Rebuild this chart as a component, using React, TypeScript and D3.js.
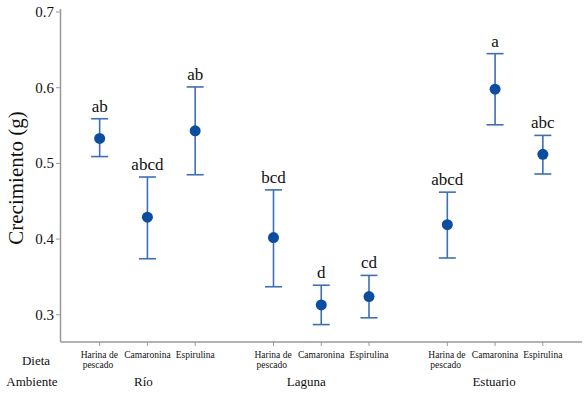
import React, { useRef, useEffect } from 'react';
import * as d3 from 'd3';

const ambientes = ['Río', 'Laguna', 'Estuario'];
const dietas = ['Harina de pescado', 'Camaronina', 'Espirulina'];
// one row per ambiente, columns follow dietas
const medias = [
  [0.533, 0.429, 0.543],
  [0.402, 0.313, 0.324],
  [0.419, 0.598, 0.512],
];
const superiores = [
  [0.559, 0.482, 0.601],
  [0.465, 0.339, 0.352],
  [0.462, 0.645, 0.537],
];
const inferiores = [
  [0.509, 0.374, 0.485],
  [0.337, 0.287, 0.296],
  [0.375, 0.551, 0.486],
];
const letras = [
  ['ab', 'abcd', 'ab'],
  ['bcd', 'd', 'cd'],
  ['abcd', 'a', 'abc'],
];
const yTicks = [0.3, 0.4, 0.5, 0.6, 0.7];

const App = () => {
  const ref = useRef<SVGSVGElement>(null);

  useEffect(() => {
    const width = 585;
    const height = 393;
    const svg = d3.select(ref.current);
    svg.selectAll('*').remove();
    svg.attr('width', width).attr('height', height);

    const font = "'Liberation Serif', 'DejaVu Serif', serif";
    const lineCol = '#3d6fb4';
    const dotCol = '#0c4da0';
    const axisCol = '#9a9a9a';

    const x0 = d3.scaleBand().domain(ambientes).range([60.5, 582]).padding(0);
    const x1 = d3.scalePoint().domain(dietas).range([0, x0.bandwidth()]).padding(0.82);
    const y = d3.scaleLinear().domain([0.264, 0.704]).range([342, 9]);

    const g = svg.append('g');
    const txt = () => g.append('text').style('font-family', font).attr('fill', '#111');

    // axes
    g.append('line')
      .attr('x1', 60.5).attr('x2', 60.5)
      .attr('y1', y(0.704)).attr('y2', y(0.264))
      .attr('stroke', axisCol).attr('stroke-width', 1.5);
    g.append('line')
      .attr('x1', 60.5).attr('x2', 582)
      .attr('y1', y(0.264)).attr('y2', y(0.264))
      .attr('stroke', axisCol).attr('stroke-width', 1.5);

    yTicks.forEach((t) => {
      g.append('line')
        .attr('x1', 56).attr('x2', 60.5)
        .attr('y1', y(t)).attr('y2', y(t))
        .attr('stroke', axisCol).attr('stroke-width', 1);
      txt()
        .attr('x', 54).attr('y', y(t) + 5)
        .attr('text-anchor', 'end')
        .attr('font-size', 15)
        .text(t.toFixed(1));
    });

    txt()
      .attr('transform', 'translate(23,178) rotate(-90)')
      .attr('text-anchor', 'middle')
      .attr('font-size', 21)
      .text('Crecimiento (g)');

    ambientes.forEach((amb, gi) => {
      dietas.forEach((d, di) => {
        const cx = (x0(amb) as number) + (x1(d) as number);
        g.append('line')
          .attr('x1', cx).attr('x2', cx)
          .attr('y1', 342).attr('y2', 346)
          .attr('stroke', axisCol).attr('stroke-width', 1);
        const lab = txt().attr('font-size', 9.5);
        if (d === 'Harina de pescado') {
          lab.attr('text-anchor', 'start');
          lab.append('tspan').attr('x', cx - 19).attr('y', 358).text('Harina de');
          lab.append('tspan').attr('x', cx - 17).attr('y', 368).text('pescado');
        } else {
          lab.attr('text-anchor', 'middle').attr('x', cx).attr('y', 358).text(d);
        }

        // error bar
        const top = y(superiores[gi][di]);
        const bot = y(inferiores[gi][di]);
        g.append('line')
          .attr('x1', cx).attr('x2', cx).attr('y1', top).attr('y2', bot)
          .attr('stroke', lineCol).attr('stroke-width', 1.6);
        [top, bot].forEach((yy) => {
          g.append('line')
            .attr('x1', cx - 8.5).attr('x2', cx + 8.5).attr('y1', yy).attr('y2', yy)
            .attr('stroke', lineCol).attr('stroke-width', 1.6);
        });
        g.append('circle')
          .attr('cx', cx).attr('cy', y(medias[gi][di])).attr('r', 5.5)
          .attr('fill', dotCol);
        txt()
          .attr('x', cx).attr('y', top - 7)
          .attr('text-anchor', 'middle')
          .attr('font-size', 17)
          .text(letras[gi][di]);
      });
    });

    const nudge = [-4, -15, -1];
    ambientes.forEach((amb, gi) => {
      txt()
        .attr('x', (x0(amb) as number) + x0.bandwidth() / 2 + nudge[gi])
        .attr('y', 386)
        .attr('text-anchor', 'middle')
        .attr('font-size', 13)
        .text(amb);
    });

    txt().attr('x', 36).attr('y', 365).attr('text-anchor', 'middle')
      .attr('font-size', 13).text('Dieta');
    txt().attr('x', 32).attr('y', 386).attr('text-anchor', 'middle')
      .attr('font-size', 13).text('Ambiente');
  });

  return (
    <svg ref={ref} style={{ position: 'absolute', left: 0, top: 0, background: '#fff' }}></svg>
  );
};

export default App;
